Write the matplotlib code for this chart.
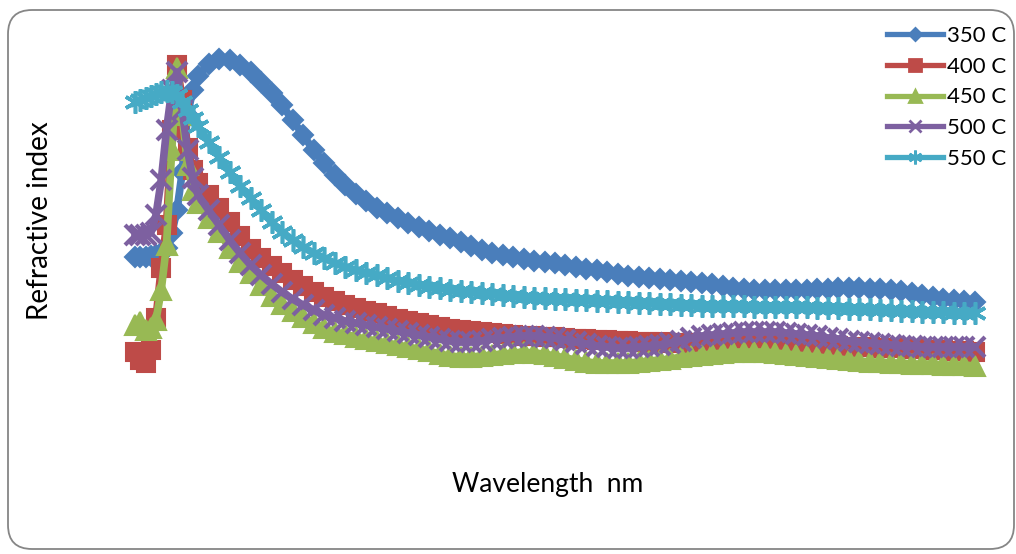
import matplotlib
matplotlib.use('Agg')
import matplotlib.pyplot as plt
from matplotlib.patches import FancyBboxPatch
from matplotlib.transforms import IdentityTransform

plt.rcParams['font.family'] = ['Lato', 'DejaVu Sans']

W, H = 1016, 554

# wavelength in nm (denser sampling at the short end)
wavelength = list(range(300, 360, 5)) + list(range(360, 1101, 10))

n_350 = [2.43, 2.43, 2.43, 2.44, 2.45, 2.47, 2.52, 2.67, 2.90, 3.28, 3.85, 4.10, 4.24,
         4.36, 4.41, 4.40, 4.35, 4.28, 4.18, 4.07, 3.95, 3.80, 3.65, 3.50, 3.37, 3.25,
         3.15, 3.06, 2.99, 2.92, 2.87, 2.82, 2.77, 2.73, 2.69, 2.65,
         2.62, 2.58, 2.54, 2.50, 2.47, 2.45, 2.43, 2.41, 2.39, 2.38, 2.37, 2.35, 2.33,
         2.31, 2.30, 2.28, 2.26, 2.24, 2.23, 2.22, 2.21, 2.20, 2.19, 2.18, 2.17, 2.16,
         2.14, 2.12, 2.11, 2.10, 2.10, 2.10, 2.10, 2.10, 2.10, 2.11, 2.11, 2.12, 2.12,
         2.12, 2.11, 2.11, 2.10, 2.09, 2.07, 2.05, 2.03, 2.01, 2.00, 1.99, 1.98]

n_400 = [1.48, 1.40, 1.37, 1.50, 1.82, 2.32, 2.75, 3.70, 4.35, 4.00, 3.52, 3.30, 3.17,
         3.05, 2.92, 2.78, 2.64, 2.51, 2.42, 2.34, 2.27, 2.20, 2.14, 2.08, 2.03, 1.99,
         1.95, 1.92, 1.89, 1.87, 1.84, 1.81, 1.79, 1.77, 1.75, 1.73,
         1.71, 1.70, 1.69, 1.68, 1.67, 1.66, 1.65, 1.64, 1.64, 1.63, 1.63, 1.62, 1.61,
         1.61, 1.60, 1.60, 1.59, 1.59, 1.58, 1.58, 1.58, 1.57, 1.57, 1.57, 1.57, 1.57,
         1.57, 1.57, 1.57, 1.56, 1.56, 1.56, 1.55, 1.55, 1.55, 1.54, 1.54, 1.54, 1.53,
         1.53, 1.53, 1.52, 1.52, 1.52, 1.51, 1.51, 1.50, 1.50, 1.49, 1.49, 1.48]

n_450 = [1.75, 1.78, 1.70, 1.72, 1.80, 2.10, 2.55, 3.50, 4.32, 3.85, 3.35, 3.10, 2.97,
         2.82, 2.68, 2.52, 2.38, 2.27, 2.15, 2.04, 1.96, 1.89, 1.83, 1.77, 1.72, 1.68,
         1.66, 1.63, 1.61, 1.59, 1.57, 1.55, 1.53, 1.51, 1.49, 1.46,
         1.44, 1.43, 1.43, 1.44, 1.45, 1.46, 1.47, 1.48, 1.47, 1.46, 1.44, 1.42, 1.40,
         1.38, 1.37, 1.37, 1.37, 1.37, 1.38, 1.39, 1.40, 1.41, 1.43, 1.44, 1.45, 1.46,
         1.47, 1.48, 1.48, 1.48, 1.48, 1.47, 1.46, 1.45, 1.44, 1.43, 1.42, 1.41, 1.40,
         1.39, 1.38, 1.38, 1.37, 1.37, 1.36, 1.36, 1.36, 1.35, 1.35, 1.35, 1.34]

n_500 = [2.65, 2.65, 2.65, 2.67, 2.85, 3.20, 3.70, 4.10, 4.28, 3.90, 3.50, 3.22, 3.05,
         2.90, 2.75, 2.60, 2.47, 2.35, 2.25, 2.16, 2.08, 2.01, 1.95, 1.90, 1.85, 1.82,
         1.79, 1.77, 1.75, 1.73, 1.71, 1.69, 1.67, 1.65, 1.63, 1.61,
         1.59, 1.58, 1.58, 1.59, 1.61, 1.62, 1.63, 1.64, 1.64, 1.63, 1.62, 1.60, 1.58,
         1.56, 1.54, 1.53, 1.52, 1.52, 1.53, 1.54, 1.55, 1.57, 1.59, 1.62, 1.64, 1.65,
         1.66, 1.67, 1.68, 1.68, 1.68, 1.68, 1.67, 1.66, 1.65, 1.64, 1.62, 1.61, 1.59,
         1.58, 1.57, 1.56, 1.55, 1.54, 1.54, 1.53, 1.53, 1.53, 1.53, 1.53, 1.53]

n_550 = [3.98, 4.00, 4.02, 4.04, 4.06, 4.08, 4.09, 4.08, 4.05, 3.98, 3.90, 3.82, 3.74,
         3.58, 3.43, 3.28, 3.14, 3.02, 2.90, 2.78, 2.68, 2.60, 2.53, 2.47, 2.42, 2.37,
         2.33, 2.30, 2.27, 2.25, 2.22, 2.19, 2.17, 2.15, 2.13, 2.12,
         2.10, 2.09, 2.08, 2.07, 2.06, 2.05, 2.04, 2.03, 2.02, 2.02, 2.01, 2.01, 2.00,
         2.00, 1.99, 1.99, 1.98, 1.98, 1.97, 1.97, 1.96, 1.96, 1.95, 1.95, 1.94, 1.94,
         1.94, 1.94, 1.94, 1.93, 1.93, 1.93, 1.93, 1.93, 1.93, 1.92, 1.92, 1.92, 1.91,
         1.91, 1.91, 1.90, 1.90, 1.89, 1.89, 1.88, 1.88, 1.88, 1.87, 1.87, 1.87]

labels = ['350 C', '400 C', '450 C', '500 C', '550 C']
colors = ['#4A7EBB', '#BE4B48', '#98B954', '#7D60A0', '#46AAC5']
markers = ['D', 's', '^', 'x', (6, 2, 0)]
msizes = [10.5, 13, 14, 15, 16]
mews = [1.5, 1.5, 1.5, 3.0, 2.6]

fig = plt.figure(figsize=(W / 100, H / 100), dpi=100)
# plot area in pixels: x 120..990, y 30..440
ax = fig.add_axes([120 / W, 1 - 440 / H, 870 / W, 410 / H])
ax.set_xlim(285.71, 1114.29)
ax.set_ylim(0.60, 4.70)
ax.axis('off')

series = [n_350, n_400, n_450, n_500, n_550]
for i, vals in enumerate(series):
    ax.plot(wavelength, vals, color=colors[i], lw=5.5, marker=markers[i],
            ms=msizes[i], mfc=colors[i], mec=colors[i], mew=mews[i],
            label=labels[i], zorder=2 + i)

leg = ax.legend(loc='upper left', bbox_to_anchor=(887 / W, 1 - 26 / H),
                bbox_transform=fig.transFigure, frameon=False, fontsize=16,
                handlelength=2.5, handletextpad=0.22, labelspacing=0.48,
                borderpad=0, borderaxespad=0, numpoints=1)
for h in leg.legend_handles:
    h.set_markersize(h.get_markersize() * 0.62)
    h.set_markeredgewidth(2)
    h.set_linewidth(3.8)

fig.text(40 / W, 1 - 221 / H, 'Refractive index', rotation=90,
         ha='center', va='center', fontsize=20)
fig.text(548 / W, 1 - 492 / H, 'Wavelength  nm', ha='center', va='baseline',
         fontsize=19)

border = FancyBboxPatch((8, 5), 1006, 539, boxstyle='round,pad=0,rounding_size=24',
                        transform=IdentityTransform(), fill=False,
                        edgecolor='#868686', lw=1.3)
fig.patches.append(border)

fig.savefig('out.png', dpi=100)
